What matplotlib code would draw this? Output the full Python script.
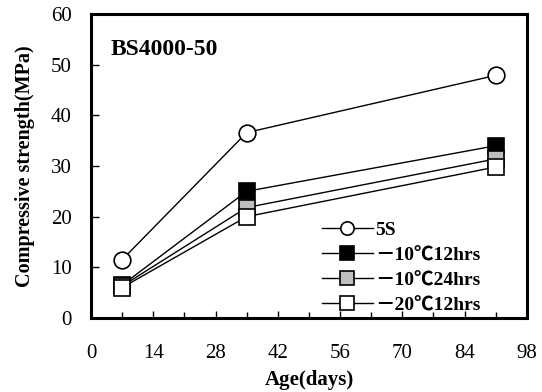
import numpy as np
import matplotlib.pyplot as plt
from matplotlib.ticker import MultipleLocator

# data
age = [7, 35, 91]
s5 = [11.5, 36.6, 47.9]
m10_12 = [6.5, 25.0, 34.0]
m10_24 = [6.3, 21.8, 31.4]
m20_12 = [6.0, 20.0, 29.8]

labels = ["5S", "－10℃12hrs", "－10℃24hrs", "－20℃12hrs"]
faces = ["white", "black", "#bfbfbf", "white"]
marks = ["o", "s", "s", "s"]

plt.rcParams['font.family'] = ['Liberation Serif', 'Noto Sans CJK SC', 'DejaVu Sans']

fig = plt.figure(figsize=(5.42, 3.92), dpi=100)
ax = fig.add_axes([0.168, 0.189, 0.804, 0.775])

for ys, lab, fc, mk in zip([s5, m10_12, m10_24, m20_12], labels, faces, marks):
	ax.plot(age, ys, color="black", lw=1.0, marker=mk, ms=12,
			mfc=fc, mec="black", mew=1.2, label=lab)

ax.set_xlim(0, 98)
ax.set_ylim(0, 60)
ax.xaxis.set_major_locator(MultipleLocator(14))
ax.xaxis.set_minor_locator(MultipleLocator(7))
ax.yaxis.set_major_locator(MultipleLocator(10))
ax.tick_params(axis="both", which="both", direction="in", labelsize=15, width=1.0)
ax.tick_params(axis="x", which="major", length=5, pad=19)
ax.tick_params(axis="x", which="minor", length=4)
ax.tick_params(axis="y", length=6, pad=14)
for s in ax.spines.values():
	s.set_linewidth(2.2)

ax.set_xlabel("Age(days)", fontsize=15, fontweight="bold", labelpad=5)
ax.set_ylabel("Compressive strength(MPa)", fontsize=14.5, fontweight="bold", labelpad=11)
ax.text(0.045, 0.865, "BS4000-50", transform=ax.transAxes, fontsize=17, fontweight="bold")

leg = ax.legend(loc="lower left", bbox_to_anchor=(0.49, -0.045), frameon=False,
				prop={"weight": "bold", "size": 14}, handlelength=2.6,
				handletextpad=0.15, labelspacing=0.38, markerscale=0.8)

fig.savefig("out.png", dpi=100)
